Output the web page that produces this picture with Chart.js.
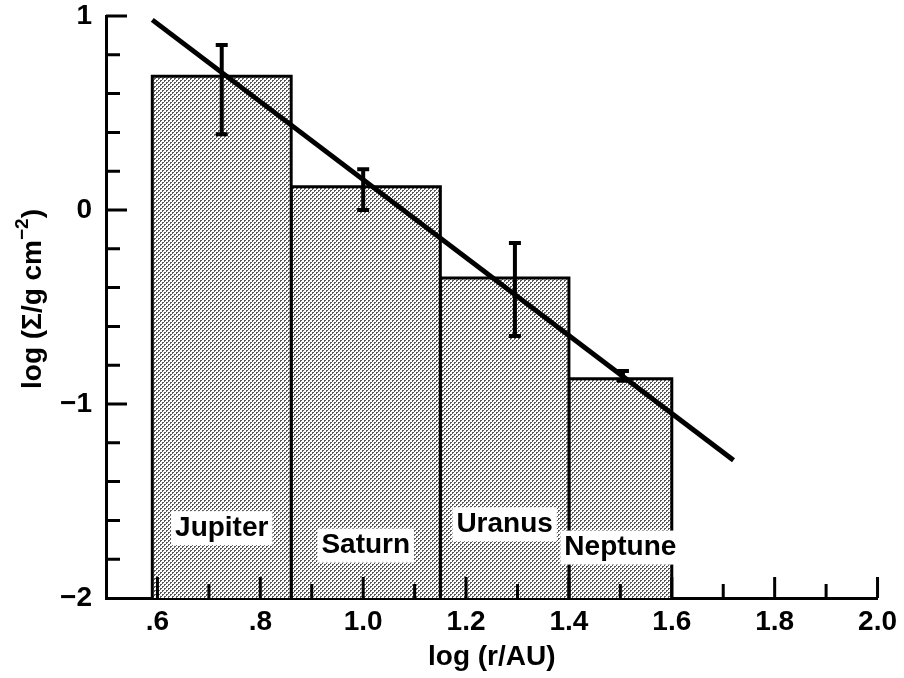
<!DOCTYPE html>
<html>
<head>
<meta charset="utf-8">
<script src="https://cdn.jsdelivr.net/npm/chart.js@4.4.1/dist/chart.umd.min.js"></script>
<style>
  html, body { margin: 0; padding: 0; background: #fff; }
  #wrap { width: 904px; height: 678px; }
</style>
</head>
<body>
<div id="wrap"><canvas id="surfChart"></canvas></div>
<script>
// planets and the annulus edges they occupy, in log(r/AU)
const planets  = ['Jupiter', 'Saturn', 'Uranus', 'Neptune'];
const binEdges = [0.59, 0.86, 1.15, 1.40, 1.60];
const logSigma = [0.69, 0.12, -0.35, -0.87];

// error bars
const errX    = [0.725, 1.0, 1.295, 1.505];
const errLow  = [0.39, 0.00, -0.65, -0.88];
const errHigh = [0.85, 0.21, -0.17, -0.83];

// fitted power law (end points)
const fitX = [0.59, 1.72];
const fitY = [0.98, -1.29];

// where the planet names sit (y, data units)
const labelY = [-1.64, -1.73, -1.62, -1.74];

const xTicks = [0.6, 0.8, 1.0, 1.2, 1.4, 1.6, 1.8, 2.0];
const yTicks = [-2, -1, 0, 1];

const FONT = "'Liberation Sans', Arial, Helvetica, sans-serif";
const FS = 28;

// ── halftone fill like the printed figure ──
function halftone() {
  const c = document.createElement('canvas');
  c.width = 4; c.height = 4;
  const g = c.getContext('2d');
  g.fillStyle = '#fff';
  g.fillRect(0, 0, 4, 4);
  g.fillStyle = '#5a5a5a';
  g.fillRect(0, 0, 2, 1);
  g.fillRect(0, 1, 1, 1);
  g.fillRect(2, 2, 2, 1);
  g.fillRect(2, 3, 1, 1);
  return g.createPattern(c, 'repeat');
}
const PATTERN = halftone();

// ── datasets ──
const datasets = [];

datasets.push({
  label: 'fit',
  data: fitX.map((x, i) => ({ x, y: fitY[i] })),
  borderColor: '#000',
  borderWidth: 5,
  pointRadius: 0,
  order: 0,
});

errX.forEach((x, i) => {
  datasets.push({
    label: 'err ' + planets[i],
    data: [{ x, y: errLow[i] }, { x, y: errHigh[i] }],
    borderColor: '#000',
    borderWidth: 4,
    pointStyle: 'line',
    pointRadius: 6,
    pointBorderWidth: 4,
    pointBorderColor: '#000',
    order: 1,
  });
});

planets.forEach((name, i) => {
  const x0 = binEdges[i], x1 = binEdges[i + 1], h = logSigma[i];
  datasets.push({
    label: name,
    data: [{ x: x0, y: -2 }, { x: x0, y: h }, { x: x1, y: h }, { x: x1, y: -2 }],
    borderColor: '#000',
    borderWidth: 3,
    backgroundColor: PATTERN,
    fill: 'start',
    pointRadius: 0,
    order: 2,
  });
});

// ── inward tick marks ──
const innerTicks = {
  id: 'innerTicks',
  afterDatasetsDraw(chart) {
    const { ctx, scales: { x, y } } = chart;
    ctx.save();
    ctx.strokeStyle = '#000';
    ctx.lineWidth = 3;
    ctx.beginPath();
    for (let k = 6; k <= 20; k++) {
      const px = x.getPixelForValue(k / 10);
      const len = k % 2 === 0 ? 21 : 14;
      ctx.moveTo(px, y.bottom);
      ctx.lineTo(px, y.bottom - len);
    }
    for (let k = -9; k <= 5; k++) {
      const py = y.getPixelForValue(k / 5);
      const len = k % 5 === 0 ? 21 : 14;
      ctx.moveTo(x.left, py);
      ctx.lineTo(x.left + len, py);
    }
    ctx.stroke();
    ctx.restore();
  }
};

// ── planet names with white boxes ──
const planetNames = {
  id: 'planetNames',
  afterDatasetsDraw(chart) {
    const { ctx, scales: { x, y } } = chart;
    ctx.save();
    ctx.font = 'bold ' + FS + 'px ' + FONT;
    ctx.textAlign = 'center';
    ctx.textBaseline = 'middle';
    planets.forEach((name, i) => {
      const cx = x.getPixelForValue((binEdges[i] + binEdges[i + 1]) / 2);
      const cy = y.getPixelForValue(labelY[i]);
      const w = ctx.measureText(name).width;
      ctx.fillStyle = '#fff';
      ctx.fillRect(cx - w / 2 - 4, cy - 17, w + 8, 34);
      ctx.fillStyle = '#000';
      ctx.fillText(name, cx, cy);
    });
    ctx.restore();
  }
};

// ── y title with a real superscript ──
const yTitle = {
  id: 'yTitle',
  afterDraw(chart) {
    const { ctx, chartArea } = chart;
    const big = 'bold ' + FS + 'px ' + FONT;
    const small = 'bold 19px ' + FONT;
    const parts = [['log (\u03A3/g cm', big, 0], ['\u22122', small, -10], [')', big, 0]];
    ctx.save();
    ctx.translate(33, (chartArea.top + chartArea.bottom) / 2 - 8);
    ctx.rotate(-Math.PI / 2);
    ctx.fillStyle = '#000';
    ctx.textBaseline = 'middle';
    ctx.textAlign = 'left';
    let total = 0;
    parts.forEach(p => { ctx.font = p[1]; total += ctx.measureText(p[0]).width; });
    let cx = -total / 2;
    parts.forEach(p => {
      ctx.font = p[1];
      ctx.fillText(p[0], cx, p[2]);
      cx += ctx.measureText(p[0]).width;
    });
    ctx.restore();
  }
};

new Chart(document.getElementById('surfChart'), {
  type: 'line',
  data: { datasets },
  plugins: [innerTicks, planetNames, yTitle],
  options: {
    responsive: true,
    maintainAspectRatio: false,
    animation: false,
    layout: { padding: { top: 2, right: 26, bottom: 4, left: 14 } },
    plugins: { legend: { display: false }, tooltip: { enabled: false } },
    elements: { line: { tension: 0 } },
    scales: {
      x: {
        type: 'linear',
        min: 0.5,
        max: 2.0,
        afterBuildTicks: s => { s.ticks = xTicks.map(v => ({ value: v })); },
        afterFit: s => { s.height = 76; },
        grid: { display: false, drawTicks: false },
        border: { display: true, color: '#000', width: 3 },
        ticks: {
          color: '#000',
          padding: 7,
          maxRotation: 0,
          font: { family: FONT, size: FS, weight: 'bold' },
          callback: v => v < 1 ? v.toFixed(1).slice(1) : v.toFixed(1),
        },
        title: {
          display: true,
          text: 'log (r/AU)',
          color: '#000',
          padding: 0,
          font: { family: FONT, size: FS, weight: 'bold' },
        },
      },
      y: {
        min: -2,
        max: 1,
        afterBuildTicks: s => { s.ticks = yTicks.map(v => ({ value: v })); },
        afterFit: s => { s.width = 92; s.paddingTop = 16; s.paddingBottom = 16; },
        grid: { display: false, drawTicks: false },
        border: { display: true, color: '#000', width: 3 },
        ticks: {
          color: '#000',
          padding: 14,
          font: { family: FONT, size: FS, weight: 'bold' },
          callback: v => v < 0 ? '\u2212' + Math.abs(v) : String(v),
        },
        title: { display: false },
      },
    },
  },
});
</script>
</body>
</html>
